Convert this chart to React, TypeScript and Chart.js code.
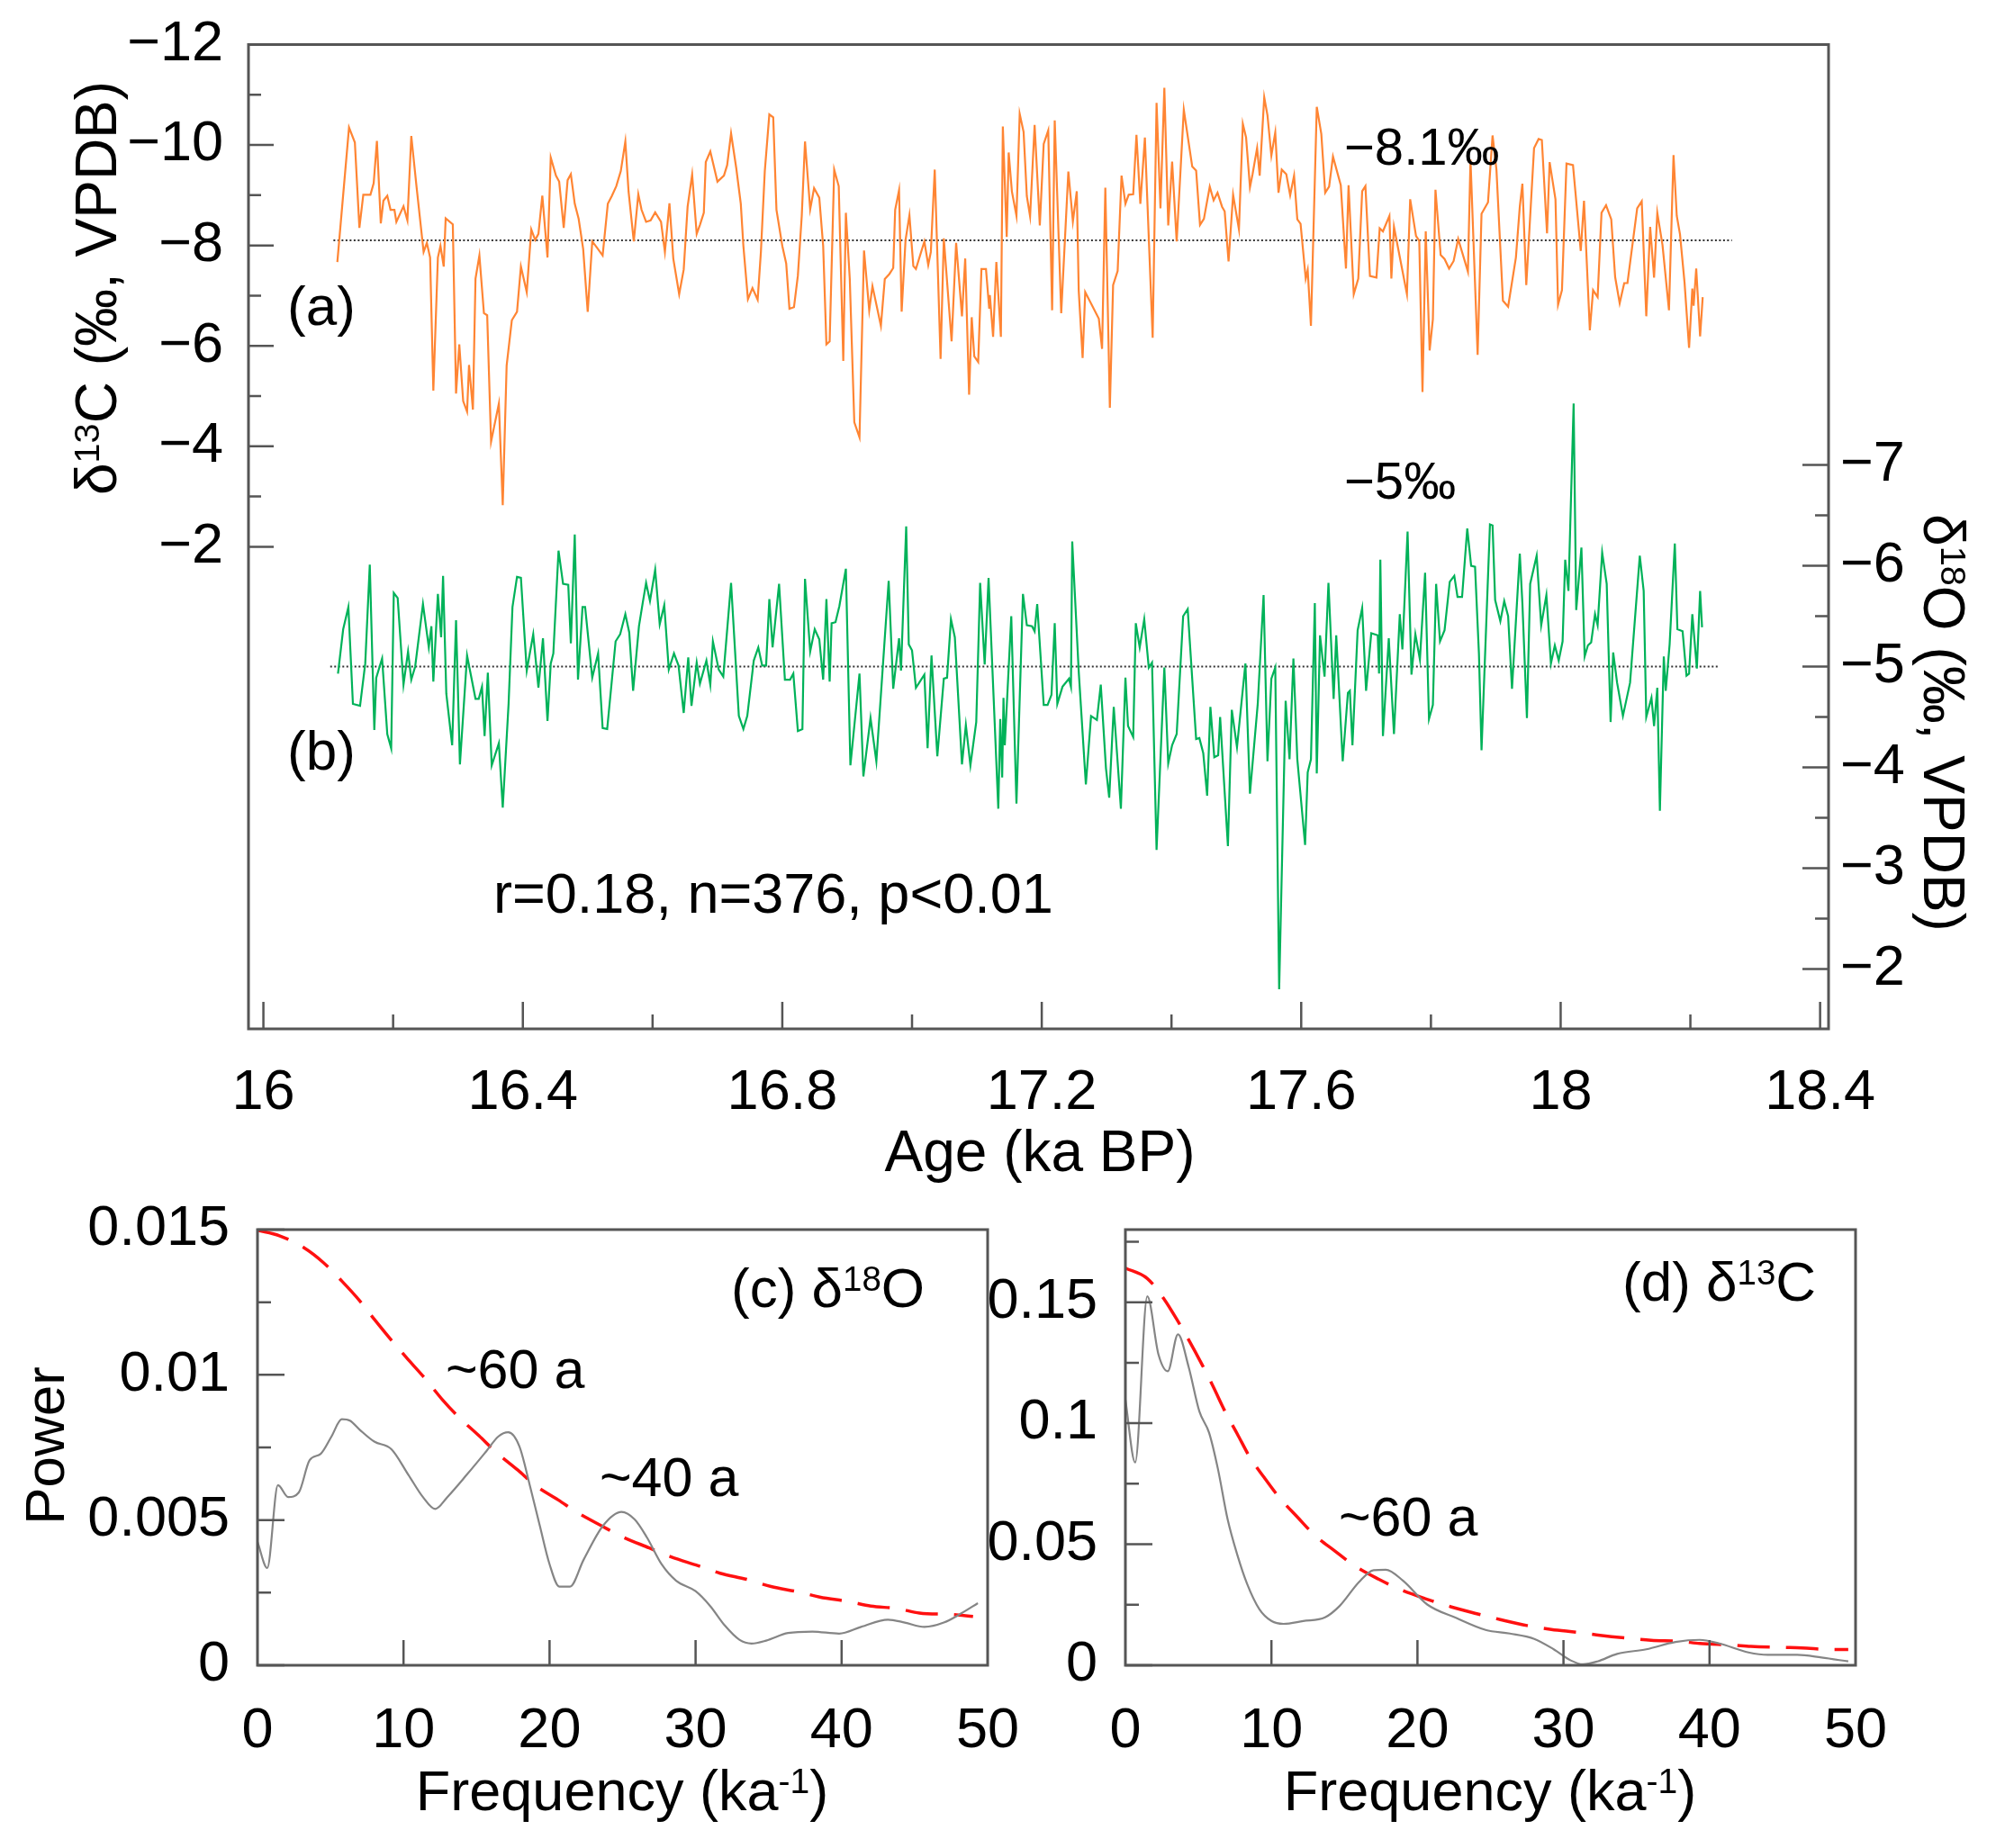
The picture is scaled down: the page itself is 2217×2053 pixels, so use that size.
import React, { useEffect, useRef } from 'react';
import { Chart, registerables } from 'chart.js';
Chart.register(...registerables);

const FONT = "'Liberation Sans', Arial, Helvetica, sans-serif";
const ORANGE = '#FF8533';
const GREEN = '#00B259';
const AXIS = '#555555';

// ---------- (a) d13C series: [age ka BP, d13C permil] ----------
const d13C: [number, number][] = [
[16.114,-7.67],[16.132,-10.35],[16.141,-10.05],[16.148,-8.35],[16.154,-9.01],[16.165,-9.01],[16.170,-9.24],[16.175,-10.08],[16.181,-8.44],[16.185,-8.89],[16.191,-8.99],[16.196,-8.71],[16.202,-8.71],[16.205,-8.47],[16.216,-8.78],[16.222,-8.50],[16.228,-10.18],[16.236,-9.18],[16.247,-7.87],[16.252,-8.05],[16.257,-7.76],[16.262,-5.11],[16.269,-7.76],[16.273,-7.99],[16.278,-7.58],[16.281,-8.54],[16.292,-8.42],[16.297,-5.05],[16.302,-6.03],[16.308,-4.90],[16.314,-4.69],[16.317,-5.62],[16.323,-4.73],[16.327,-7.34],[16.333,-7.80],[16.340,-6.65],[16.345,-6.61],[16.351,-4.09],[16.363,-4.85],[16.369,-2.83],[16.375,-5.61],[16.383,-6.51],[16.391,-6.68],[16.397,-7.58],[16.406,-7.07],[16.413,-8.32],[16.419,-8.11],[16.424,-8.23],[16.430,-8.99],[16.438,-7.76],[16.443,-9.75],[16.451,-9.39],[16.456,-9.27],[16.463,-8.35],[16.469,-9.30],[16.474,-9.42],[16.480,-8.83],[16.486,-8.53],[16.493,-7.93],[16.500,-6.68],[16.507,-8.08],[16.514,-7.96],[16.523,-7.80],[16.531,-8.83],[16.537,-8.98],[16.544,-9.18],[16.551,-9.48],[16.558,-10.07],[16.563,-9.07],[16.571,-8.08],[16.578,-9.02],[16.583,-8.71],[16.590,-8.47],[16.597,-8.50],[16.604,-8.66],[16.613,-8.47],[16.619,-7.87],[16.626,-8.84],[16.632,-7.73],[16.641,-7.03],[16.648,-7.52],[16.654,-8.77],[16.661,-9.41],[16.668,-8.23],[16.673,-8.41],[16.679,-8.65],[16.682,-9.66],[16.689,-9.87],[16.700,-9.27],[16.710,-9.39],[16.715,-9.60],[16.721,-10.23],[16.729,-9.54],[16.736,-8.83],[16.740,-7.99],[16.747,-6.93],[16.754,-7.15],[16.762,-6.92],[16.767,-7.87],[16.773,-9.48],[16.780,-10.61],[16.786,-10.55],[16.791,-8.71],[16.800,-7.99],[16.806,-7.64],[16.811,-6.74],
[16.818,-6.77],[16.824,-7.40],[16.830,-8.59],[16.835,-10.07],[16.843,-8.72],[16.849,-9.14],[16.857,-8.95],[16.863,-7.99],[16.868,-6.03],[16.873,-6.09],[16.880,-9.51],[16.887,-9.18],[16.894,-5.70],[16.898,-8.65],[16.904,-7.34],[16.911,-4.48],[16.919,-4.18],[16.926,-7.90],[16.934,-6.71],[16.939,-7.19],[16.952,-6.40],[16.958,-7.33],[16.965,-7.43],[16.971,-7.55],[16.974,-8.71],[16.980,-9.10],[16.984,-6.68],[16.990,-8.11],[16.996,-8.60],[17.002,-7.59],[17.006,-7.53],[17.019,-8.08],[17.025,-7.61],[17.029,-7.87],[17.035,-9.51],[17.044,-5.74],[17.049,-8.14],[17.061,-6.09],[17.068,-8.05],[17.077,-6.59],[17.082,-7.74],[17.088,-5.03],[17.092,-6.57],[17.096,-5.79],[17.102,-5.68],[17.107,-7.53],[17.114,-7.53],[17.119,-6.74],[17.120,-7.01],[17.125,-6.18],[17.130,-7.67],[17.137,-6.18],[17.140,-10.37],[17.146,-8.17],[17.149,-9.85],[17.154,-9.07],[17.161,-8.59],[17.166,-10.62],[17.172,-10.26],[17.177,-8.98],[17.182,-8.58],[17.189,-10.40],[17.197,-8.40],[17.203,-10.02],[17.210,-10.29],[17.216,-6.71],[17.220,-10.49],[17.230,-6.65],[17.241,-9.47],[17.248,-8.48],[17.254,-9.08],[17.257,-7.10],[17.263,-5.76],[17.267,-7.07],[17.288,-6.54],[17.293,-5.94],[17.298,-9.15],[17.305,-4.77],[17.310,-7.21],[17.317,-7.49],[17.323,-9.39],[17.329,-8.83],[17.334,-9.01],[17.341,-9.02],[17.346,-10.20],[17.352,-8.83],[17.359,-10.15],[17.371,-6.16],[17.377,-10.84],[17.383,-8.74],[17.389,-11.14],[17.395,-8.40],[17.401,-9.67],[17.408,-8.08],[17.419,-10.70],[17.432,-9.57],[17.438,-9.49],[17.444,-8.41],[17.450,-8.53],[17.459,-9.17],[17.465,-8.90],[17.471,-9.05],[17.478,-8.77],[17.482,-8.68],[17.488,-7.68],[17.495,-9.01],[17.504,-8.32],[17.510,-10.42],
[17.515,-10.15],[17.521,-9.16],[17.525,-9.42],[17.532,-9.94],[17.536,-9.39],[17.543,-10.95],[17.548,-10.59],[17.554,-9.79],[17.560,-10.25],[17.565,-9.05],[17.570,-9.51],[17.577,-9.42],[17.583,-9.00],[17.589,-9.39],[17.594,-8.52],[17.599,-8.43],[17.607,-7.34],[17.610,-7.51],[17.615,-6.40],[17.624,-10.76],[17.631,-10.22],[17.637,-9.05],[17.643,-9.17],[17.649,-9.77],[17.661,-9.20],[17.669,-7.54],[17.673,-9.20],[17.681,-7.03],[17.688,-7.34],[17.694,-9.08],[17.699,-9.18],[17.706,-7.39],[17.716,-7.36],[17.721,-8.34],[17.726,-8.28],[17.736,-8.59],[17.739,-7.34],[17.743,-8.37],[17.763,-7.03],[17.768,-8.92],[17.777,-8.19],[17.782,-8.09],[17.787,-5.08],[17.792,-8.28],[17.798,-5.91],[17.803,-6.53],[17.807,-9.11],[17.815,-7.81],[17.821,-7.73],[17.828,-7.54],[17.835,-7.69],[17.842,-8.13],[17.857,-7.48],[17.861,-9.71],[17.872,-5.82],[17.878,-8.63],[17.888,-8.86],[17.895,-10.19],[17.901,-9.51],[17.911,-6.90],[17.919,-6.78],[17.931,-7.76],[17.937,-8.77],[17.941,-9.23],[17.947,-7.21],[17.959,-9.94],[17.966,-10.12],[17.971,-10.10],[17.979,-8.24],[17.983,-9.66],[17.992,-8.92],[17.996,-6.82],[18.002,-7.11],[18.009,-9.63],[18.019,-9.60],[18.031,-7.89],[18.036,-8.89],[18.045,-6.31],[18.050,-7.11],[18.057,-6.97],[18.063,-8.65],[18.070,-8.80],[18.078,-8.52],[18.084,-7.37],[18.091,-6.85],[18.098,-7.25],[18.103,-7.25],[18.118,-8.74],[18.125,-8.88],[18.132,-6.59],[18.138,-8.37],[18.144,-7.36],[18.149,-8.65],[18.157,-8.01],[18.167,-6.71],[18.174,-9.80],[18.179,-8.59],[18.184,-8.22],[18.191,-7.26],[18.198,-5.96],[18.203,-7.14],[18.205,-6.80],[18.209,-7.54],[18.215,-6.19],[18.219,-6.97]
];

// ---------- (b) d18O series: [age ka BP, d18O permil] ----------
const d18O: [number, number][] = [
[16.115,-4.93],[16.123,-5.37],[16.131,-5.59],[16.138,-4.63],[16.149,-4.61],[16.157,-5.03],[16.164,-6.01],[16.171,-4.37],[16.174,-4.89],[16.183,-5.08],[16.191,-4.33],[16.197,-4.19],[16.201,-5.73],[16.207,-5.68],[16.216,-4.82],[16.223,-5.15],[16.228,-4.87],[16.234,-5.00],[16.246,-5.62],[16.255,-5.19],[16.259,-5.40],[16.262,-4.85],[16.269,-5.72],[16.274,-5.29],[16.277,-5.90],[16.282,-4.73],[16.291,-4.22],[16.297,-5.46],[16.303,-4.03],[16.314,-5.11],[16.327,-4.68],[16.332,-4.68],[16.337,-4.80],[16.341,-4.31],[16.346,-4.94],[16.352,-4.02],[16.363,-4.24],[16.369,-3.60],[16.378,-4.63],[16.384,-5.59],[16.391,-5.89],[16.397,-5.88],[16.406,-4.96],[16.416,-5.32],[16.424,-4.79],[16.431,-5.28],[16.438,-4.46],[16.443,-5.03],[16.447,-5.13],[16.455,-6.15],[16.462,-5.82],[16.470,-5.81],[16.474,-5.23],[16.480,-6.31],[16.485,-4.87],[16.492,-5.59],[16.496,-5.59],[16.507,-4.89],[16.516,-5.13],[16.523,-4.39],[16.530,-4.38],[16.543,-5.25],[16.550,-5.32],[16.558,-5.52],[16.564,-5.34],[16.570,-4.76],[16.579,-5.40],[16.585,-5.64],[16.590,-5.83],[16.596,-5.65],[16.604,-5.96],[16.611,-5.42],[16.618,-5.61],[16.625,-4.97],[16.633,-5.13],[16.640,-5.01],[16.648,-4.54],[16.655,-5.09],[16.660,-4.61],[16.668,-5.04],[16.673,-4.83],[16.683,-5.06],[16.689,-4.82],[16.693,-5.25],[16.702,-4.97],[16.709,-4.90],[16.721,-5.83],[16.733,-4.51],[16.740,-4.38],[16.746,-4.51],[16.756,-5.06],[16.763,-5.19],[16.769,-5.01],[16.775,-5.01],[16.780,-5.67],[16.785,-5.19],[16.795,-5.82],[16.804,-4.87],[16.812,-4.87],[16.817,-4.93],[16.824,-4.36],[16.831,-4.38],[16.835,-5.87],
[16.843,-5.15],[16.850,-5.37],[16.857,-5.27],[16.863,-4.87],[16.868,-5.67],[16.873,-4.85],[16.876,-5.43],[16.882,-5.44],[16.888,-5.60],[16.898,-5.97],[16.905,-4.02],[16.919,-4.93],[16.925,-3.91],[16.936,-4.49],[16.945,-4.06],[16.964,-5.85],[16.971,-4.78],[16.980,-5.28],[16.983,-4.96],[16.991,-6.39],[16.995,-5.22],[17.000,-5.16],[17.006,-4.79],[17.012,-4.85],[17.019,-4.92],[17.024,-4.19],[17.030,-5.11],[17.039,-4.11],[17.049,-4.88],[17.054,-4.89],[17.060,-5.47],[17.066,-5.29],[17.077,-4.03],[17.083,-4.42],[17.090,-4.02],[17.099,-4.45],[17.105,-5.83],[17.112,-5.02],[17.118,-5.88],[17.126,-4.66],[17.133,-3.59],[17.136,-4.48],[17.139,-3.90],[17.141,-4.69],[17.143,-4.22],[17.153,-5.50],[17.161,-3.64],[17.171,-5.72],[17.177,-5.41],[17.185,-5.40],[17.189,-5.35],[17.193,-5.62],[17.203,-4.62],[17.209,-4.62],[17.215,-4.72],[17.220,-5.43],[17.224,-4.63],[17.232,-4.80],[17.242,-4.88],[17.245,-4.80],[17.247,-6.24],[17.257,-4.95],[17.268,-3.83],[17.276,-4.51],[17.285,-4.47],[17.291,-4.82],[17.299,-3.99],[17.304,-3.70],[17.311,-4.60],[17.322,-3.59],[17.329,-4.89],[17.333,-4.41],[17.341,-4.30],[17.345,-5.43],[17.351,-5.19],[17.358,-5.47],[17.365,-4.99],[17.370,-5.04],[17.377,-3.18],[17.389,-4.99],[17.395,-4.04],[17.401,-4.22],[17.408,-4.33],[17.418,-5.50],[17.425,-5.57],[17.438,-4.28],[17.443,-4.29],[17.449,-4.14],[17.455,-3.72],[17.460,-4.60],[17.466,-4.10],[17.472,-4.12],[17.475,-4.50],[17.487,-3.22],[17.493,-4.57],[17.501,-4.20],[17.514,-5.03],[17.521,-3.74],[17.533,-4.63],[17.542,-5.71],[17.548,-4.06],[17.554,-4.88],[17.560,-4.99],[17.566,-1.80],
[17.576,-4.66],[17.582,-4.08],[17.588,-5.08],[17.594,-4.08],[17.606,-3.23],[17.610,-3.95],[17.615,-4.08],[17.621,-5.63],[17.624,-3.94],[17.629,-5.31],[17.636,-4.90],[17.642,-5.83],[17.650,-4.68],[17.654,-5.31],[17.664,-4.06],[17.672,-4.74],[17.675,-4.76],[17.679,-4.22],[17.687,-5.36],[17.694,-5.58],[17.700,-4.76],[17.708,-5.33],[17.718,-5.31],[17.720,-4.93],[17.722,-6.06],[17.726,-4.31],[17.735,-5.28],[17.743,-4.33],[17.752,-5.52],[17.756,-5.17],[17.764,-6.34],[17.770,-4.92],[17.776,-5.32],[17.783,-5.07],[17.791,-5.93],[17.797,-4.48],[17.803,-4.62],[17.808,-5.82],[17.814,-5.25],[17.821,-5.36],[17.829,-5.84],[17.836,-5.90],[17.841,-5.69],[17.848,-5.69],[17.856,-6.37],[17.862,-6.00],[17.868,-5.99],[17.874,-5.13],[17.878,-4.17],[17.891,-6.41],[17.895,-6.40],[17.899,-5.66],[17.907,-5.45],[17.913,-5.65],[17.919,-5.50],[17.925,-4.78],[17.937,-6.12],[17.941,-5.63],[17.948,-4.49],[17.953,-5.82],[17.963,-6.10],[17.970,-5.41],[17.978,-5.71],[17.985,-5.03],[17.991,-5.21],[17.997,-5.06],[18.003,-5.25],[18.007,-6.06],[18.012,-5.75],[18.020,-7.61],[18.024,-5.56],[18.032,-6.18],[18.037,-5.10],[18.042,-5.21],[18.047,-5.24],[18.053,-5.52],[18.057,-5.41],[18.064,-6.13],[18.071,-5.82],[18.077,-4.45],[18.081,-5.14],[18.087,-4.84],[18.096,-4.51],[18.107,-4.84],[18.122,-6.10],[18.128,-5.75],[18.132,-4.50],[18.140,-4.69],[18.144,-4.41],[18.149,-4.79],[18.153,-3.57],[18.159,-5.10],[18.162,-4.76],[18.168,-5.22],[18.176,-6.22],[18.180,-5.37],[18.188,-5.35],[18.194,-4.91],[18.198,-4.93],[18.203,-5.52],[18.210,-4.98],[18.215,-5.75],[18.218,-5.39]
];

const c13Mean = -8.1;
const o18Mean = -5;
const c13MeanSpan = [16.108, 18.264];
const o18MeanSpan = [16.103, 18.242];

// ---------- (c) d18O power spectrum: [frequency ka^-1, power] ----------
const specO: [number, number][] = [
[0,0.00425],[0.67,0.00335],[1.4,0.0062],[2.1,0.00579],[2.83,0.00595],[3.57,0.00706],[4.33,0.00728],[5.07,0.00788],[5.77,0.00847],[6.33,0.00842],[7.0,0.00811],[8.0,0.0077],[9.17,0.00744],[10.33,0.00656],[11.33,0.00579],[12.17,0.00538],[13.0,0.00579],[14.33,0.00656],[15.67,0.00737],[16.5,0.00788],[17.17,0.00802],[17.93,0.00754],[18.67,0.00615],[19.33,0.00481],[20.0,0.00348],[20.67,0.00271],[21.4,0.00271],[22.33,0.00363],[23.67,0.00481],[24.93,0.00528],[25.83,0.00502],[26.67,0.0044],[27.67,0.00348],[28.67,0.00291],[30.0,0.00255],[31.0,0.00204],[32.0,0.00137],[33.0,0.00088],[33.83,0.00075],[34.83,0.00085],[36.33,0.00111],[38.0,0.00116],[39.83,0.00109],[41.33,0.00132],[43.17,0.00157],[44.33,0.00147],[45.67,0.00132],[47.0,0.00147],[48.17,0.00178],[49.33,0.00214]
];
const redO: [number, number][] = [
[0,0.01498],[1.5,0.01479],[3.17,0.01438],[4.5,0.01387],[5.83,0.0132],[7.0,0.01255],[8.0,0.01191],[9.17,0.01119],[10.33,0.01052],[11.5,0.00986],[12.67,0.00914],[13.83,0.00852],[15.17,0.0079],[16.33,0.00734],[17.83,0.00672],[19.0,0.0062],[20.6,0.00569],[22.0,0.00523],[23.6,0.00479],[25.0,0.00442],[26.83,0.00404],[28.33,0.00373],[30.17,0.00343],[31.67,0.00317],[33.5,0.00296],[35.17,0.00271],[37.0,0.00253],[38.5,0.00235],[40.5,0.00219],[42.0,0.00204],[43.83,0.00195],[45.33,0.0018],[47.5,0.00175],[49.0,0.00168]
];

// ---------- (d) d13C power spectrum ----------
const specC: [number, number][] = [
[0,0.1097],[0.67,0.0838],[1.5,0.1524],[2.27,0.1283],[2.9,0.1215],[3.6,0.1367],[4.33,0.1233],[5.07,0.1048],[5.73,0.0961],[6.33,0.0813],[7.0,0.0603],[7.67,0.0455],[8.33,0.0337],[9.17,0.0232],[10.0,0.0183],[10.83,0.0171],[12.17,0.0183],[13.67,0.0198],[14.67,0.0245],[16.0,0.0344],[17.0,0.0393],[17.83,0.0395],[19.0,0.035],[20.67,0.0251],[22.67,0.0195],[24.67,0.0146],[26.33,0.0131],[28.0,0.0109],[29.33,0.0066],[30.5,0.002],[31.33,0.0004],[32.33,0.0016],[33.67,0.0047],[35.67,0.0066],[37.67,0.0096],[39.33,0.0105],[40.67,0.009],[42.67,0.0053],[44.0,0.0043],[46.0,0.0043],[47.67,0.0032],[49.5,0.0016]
];
const redC: [number, number][] = [
[0,0.1641],[1.5,0.1598],[2.67,0.1511],[3.5,0.1431],[4.33,0.1345],[5.27,0.124],[6.0,0.1153],[6.83,0.1048],[7.67,0.0955],[8.5,0.0862],[9.5,0.0776],[10.5,0.0696],[11.83,0.0609],[13.0,0.0535],[14.33,0.0473],[15.67,0.0412],[17.33,0.0356],[18.83,0.0313],[20.5,0.0276],[22.33,0.0241],[24.0,0.0214],[25.67,0.0189],[27.5,0.0164],[29.17,0.0148],[31.0,0.0136],[32.5,0.0124],[34.5,0.0111],[36.0,0.0103],[38.0,0.0099],[39.33,0.009],[41.5,0.0084],[42.83,0.0078],[45.0,0.0074],[46.33,0.0072],[48.33,0.0065],[49.5,0.0065]
];

// ---------- ticks ----------
const ageTicks = [16, 16.4, 16.8, 17.2, 17.6, 18, 18.4];
const ageMinor = [16.2, 16.6, 17.0, 17.4, 17.8, 18.2];
const c13Ticks = [-12, -10, -8, -6, -4, -2];
const c13Minor = [-11, -9, -7, -5, -3];
const o18Ticks = [-7, -6, -5, -4, -3, -2];
const o18Minor = [-6.5, -5.5, -4.5, -3.5, -2.5];
const freqTicks = [0, 10, 20, 30, 40, 50];
const freqInner = [10, 20, 30, 40];
const powOTicks = [0, 0.005, 0.01, 0.015];
const powOMinor = [0.0025, 0.0075, 0.0125];
const powCTicks = [0, 0.05, 0.1, 0.15];
const powCMinor = [0.025, 0.075, 0.125, 0.175];

type Seg = { t: string; sup?: boolean };

function drawRich(ctx: CanvasRenderingContext2D, segs: Seg[], x: number, y: number, size: number, align: 'left' | 'center', rot = 0) {
  ctx.save();
  ctx.translate(x, y);
  ctx.rotate(rot);
  const supSize = size * 0.62;
  let total = 0;
  const widths = segs.map((s) => {
    ctx.font = `${s.sup ? supSize : size}px ${FONT}`;
    const w = ctx.measureText(s.t).width;
    total += w;
    return w;
  });
  let cx = align === 'center' ? -total / 2 : 0;
  ctx.fillStyle = '#000';
  ctx.textBaseline = 'alphabetic';
  ctx.textAlign = 'left';
  const base = size * 0.36;
  segs.forEach((s, i) => {
    ctx.font = `${s.sup ? supSize : size}px ${FONT}`;
    ctx.fillText(s.t, cx, s.sup ? base - size * 0.3 : base);
    cx += widths[i];
  });
  ctx.restore();
}

const minus = (v: number) => (v < 0 ? '\u2212' + String(Math.abs(v)) : String(v));
const fmtAge = (v: number) => String(Math.round(v * 10) / 10);

function boxAndTicks(chart: any, xs: { vals: number[]; len: number }[], ys: { id: string; vals: number[]; len: number; side: 'left' | 'right' }[]) {
  const { ctx, chartArea: a, scales } = chart;
  ctx.save();
  ctx.strokeStyle = AXIS;
  ctx.lineWidth = 3;
  ctx.strokeRect(a.left, a.top, a.right - a.left, a.bottom - a.top);
  ctx.lineWidth = 2.5;
  ctx.beginPath();
  xs.forEach((g) => g.vals.forEach((v) => {
    const p = scales.x.getPixelForValue(v);
    ctx.moveTo(p, a.bottom);
    ctx.lineTo(p, a.bottom - g.len);
  }));
  ys.forEach((g) => g.vals.forEach((v) => {
    const p = scales[g.id].getPixelForValue(v);
    if (g.side === 'left') { ctx.moveTo(a.left, p); ctx.lineTo(a.left + g.len, p); }
    else { ctx.moveTo(a.right, p); ctx.lineTo(a.right - g.len, p); }
  }));
  ctx.stroke();
  ctx.restore();
}

const tickFont = { family: FONT, size: 63 };
const noGrid = { display: false, drawTicks: false };
const fixY = (w: number) => (s: any) => { s.width = w; s.paddingTop = 0; s.paddingBottom = 0; };
const fixX = (h: number) => (s: any) => { s.height = h; s.paddingLeft = 0; s.paddingRight = 0; };

export default function App() {
  const topRef = useRef<HTMLCanvasElement>(null);
  const cRef = useRef<HTMLCanvasElement>(null);
  const dRef = useRef<HTMLCanvasElement>(null);

  useEffect(() => {
    document.body.style.margin = '0';
    const charts: Chart[] = [];

    // ---------------- top panel ----------------
    const TW = 2217, TH = 1340;
    const topDecor = {
      id: 'topDecor',
      afterDatasetsDraw(chart: any) {
        boxAndTicks(chart,
          [{ vals: ageTicks, len: 30 }, { vals: ageMinor, len: 16 }],
          [
            { id: 'yL', vals: c13Ticks, len: 28, side: 'left' },
            { id: 'yL', vals: c13Minor, len: 14, side: 'left' },
            { id: 'yR', vals: o18Ticks, len: 29, side: 'right' },
            { id: 'yR', vals: o18Minor, len: 15, side: 'right' },
          ]);
        const ctx = chart.ctx as CanvasRenderingContext2D;
        drawRich(ctx, [{ t: '\u03b4' }, { t: '13', sup: true }, { t: 'C (\u2030, VPDB)' }], 106, 320, 64, 'center', -Math.PI / 2);
        drawRich(ctx, [{ t: '\u03b4' }, { t: '18', sup: true }, { t: 'O (\u2030, VPDB)' }], 2160, 803, 64, 'center', Math.PI / 2);
        drawRich(ctx, [{ t: 'Age (ka BP)' }], 1155, 1278, 64, 'center');
        drawRich(ctx, [{ t: '(a)' }], 357, 339, 62, 'center');
        drawRich(ctx, [{ t: '(b)' }], 357, 833, 62, 'center');
        drawRich(ctx, [{ t: '\u22128.1\u2030' }], 1493, 162, 58, 'left');
        drawRich(ctx, [{ t: '\u22125\u2030' }], 1493, 533, 58, 'left');
        drawRich(ctx, [{ t: 'r=0.18, n=376, p<0.01' }], 548, 991, 63, 'left');
      },
    };
    if (topRef.current) {
      charts.push(new Chart(topRef.current, {
        type: 'line',
        data: {
          datasets: [
            { data: d13C.map(([x, y]) => ({ x, y })), yAxisID: 'yL', borderColor: ORANGE, borderWidth: 2.2, pointRadius: 0, tension: 0 },
            { data: d18O.map(([x, y]) => ({ x, y })), yAxisID: 'yR', borderColor: GREEN, borderWidth: 2.2, pointRadius: 0, tension: 0 },
            { data: c13MeanSpan.map((x) => ({ x, y: c13Mean })), yAxisID: 'yL', borderColor: '#333', borderWidth: 2, borderDash: [2, 2.5], pointRadius: 0 },
            { data: o18MeanSpan.map((x) => ({ x, y: o18Mean })), yAxisID: 'yR', borderColor: '#333', borderWidth: 2, borderDash: [2, 2.5], pointRadius: 0 },
          ],
        },
        options: {
          animation: false, responsive: false, devicePixelRatio: 1,
          layout: { padding: { top: 49.5, left: 0, right: 0, bottom: 0 } },
          plugins: { legend: { display: false }, tooltip: { enabled: false } },
          scales: {
            x: {
              type: 'linear', min: 15.977, max: 18.413,
              grid: noGrid, border: { display: false },
              afterBuildTicks: (s: any) => { s.ticks = ageTicks.map((value) => ({ value })); },
              afterFit: fixX(TH - 1143),
              ticks: { font: tickFont, color: '#000', padding: 34, maxRotation: 0, autoSkip: false, callback: (v: any) => fmtAge(Number(v)) },
            },
            yL: {
              type: 'linear', position: 'left', reverse: true, min: -12, max: 7.6,
              grid: noGrid, border: { display: false },
              afterBuildTicks: (s: any) => { s.ticks = c13Ticks.map((value) => ({ value })); },
              afterFit: fixY(276),
              ticks: { font: tickFont, color: '#000', padding: 28, autoSkip: false, callback: (v: any) => minus(Number(v)) },
            },
            yR: {
              type: 'linear', position: 'right', reverse: true, min: -11.17, max: -1.406,
              grid: noGrid, border: { display: false },
              afterBuildTicks: (s: any) => { s.ticks = o18Ticks.map((value) => ({ value })); },
              afterFit: fixY(TW - 2031),
              ticks: { font: tickFont, color: '#000', padding: 13, autoSkip: false, callback: (v: any) => minus(Number(v)) },
            },
          },
        } as any,
        plugins: [topDecor],
      }));
    }

    // ---------------- spectrum panels ----------------
    const makeSpec = (canvas: HTMLCanvasElement, W: number, H: number, left: number, right: number, top: number, bottom: number,
      spec: [number, number][], red: [number, number][], yMax: number, yTicks: number[], yMinor: number[], yFmt: (v: number) => string,
      decor: (ctx: CanvasRenderingContext2D) => void) => {
      const plug = {
        id: 'specDecor',
        afterDatasetsDraw(chart: any) {
          boxAndTicks(chart, [{ vals: freqInner, len: 28 }],
            [{ id: 'y', vals: yTicks, len: 30, side: 'left' }, { id: 'y', vals: yMinor, len: 15, side: 'left' }]);
          decor(chart.ctx);
        },
      };
      return new Chart(canvas, {
        type: 'line',
        data: {
          datasets: [
            { data: spec.map(([x, y]) => ({ x, y })), borderColor: '#858585', borderWidth: 2.2, pointRadius: 0, cubicInterpolationMode: 'monotone' },
            { data: red.map(([x, y]) => ({ x, y })), borderColor: '#FF1010', borderWidth: 3.5, borderDash: [36, 18], pointRadius: 0, cubicInterpolationMode: 'monotone' },
          ],
        },
        options: {
          animation: false, responsive: false, devicePixelRatio: 1,
          layout: { padding: { top, left: 0, right: W - right, bottom: 0 } },
          plugins: { legend: { display: false }, tooltip: { enabled: false } },
          scales: {
            x: {
              type: 'linear', min: 0, max: 50,
              grid: noGrid, border: { display: false },
              afterBuildTicks: (s: any) => { s.ticks = freqTicks.map((value) => ({ value })); },
              afterFit: fixX(H - bottom),
              ticks: { font: tickFont, color: '#000', padding: 36, maxRotation: 0, autoSkip: false, callback: (v: any) => String(v) },
            },
            y: {
              type: 'linear', min: 0, max: yMax,
              grid: noGrid, border: { display: false },
              afterBuildTicks: (s: any) => { s.ticks = yTicks.map((value) => ({ value })); },
              afterFit: fixY(left),
              ticks: { font: tickFont, color: '#000', padding: 31, autoSkip: false, callback: (v: any) => yFmt(Number(v)) },
            },
          },
        } as any,
        plugins: [plug],
      });
    };

    const freqTitle: Seg[] = [{ t: 'Frequency (ka' }, { t: '-1', sup: true }, { t: ')' }];
    if (cRef.current) {
      // canvas at page (0,1300), 1160 x 753
      charts.push(makeSpec(cRef.current, 1160, 753, 286, 1097, 66, 550, specO, redO, 0.015, powOTicks, powOMinor,
        (v) => (v === 0 ? '0' : String(v)),
        (ctx) => {
          drawRich(ctx, [{ t: 'Power' }], 49, 306, 62, 'center', -Math.PI / 2);
          drawRich(ctx, freqTitle, 691, 688, 63, 'center');
          drawRich(ctx, [{ t: '(c) \u03b4' }, { t: '18', sup: true }, { t: 'O' }], 812, 130, 62, 'left');
          drawRich(ctx, [{ t: '~60 a' }], 495, 220, 61, 'left');
          drawRich(ctx, [{ t: '~40 a' }], 666, 340, 61, 'left');
        }));
    }
    if (dRef.current) {
      // canvas at page (1040,1300), 1177 x 753
      charts.push(makeSpec(dRef.current, 1177, 753, 210, 1021, 66, 550, specC, redC, 0.18, powCTicks, powCMinor,
        (v) => (v === 0 ? '0' : String(v)),
        (ctx) => {
          drawRich(ctx, freqTitle, 615, 688, 63, 'center');
          drawRich(ctx, [{ t: '(d) \u03b4' }, { t: '13', sup: true }, { t: 'C' }], 762, 123, 62, 'left');
          drawRich(ctx, [{ t: '~60 a' }], 447, 384, 61, 'left');
        }));
    }

    return () => { charts.forEach((c) => c.destroy()); };
  }, []);

  return (
    <div style={{ position: 'relative', width: 2217, height: 2053, background: '#fff', overflow: 'hidden' }}>
      <canvas ref={topRef} width={2217} height={1340} style={{ position: 'absolute', left: 0, top: 0, width: 2217, height: 1340 }} />
      <canvas ref={cRef} width={1160} height={753} style={{ position: 'absolute', left: 0, top: 1300, width: 1160, height: 753 }} />
      <canvas ref={dRef} width={1177} height={753} style={{ position: 'absolute', left: 1040, top: 1300, width: 1177, height: 753 }} />
    </div>
  );
}
